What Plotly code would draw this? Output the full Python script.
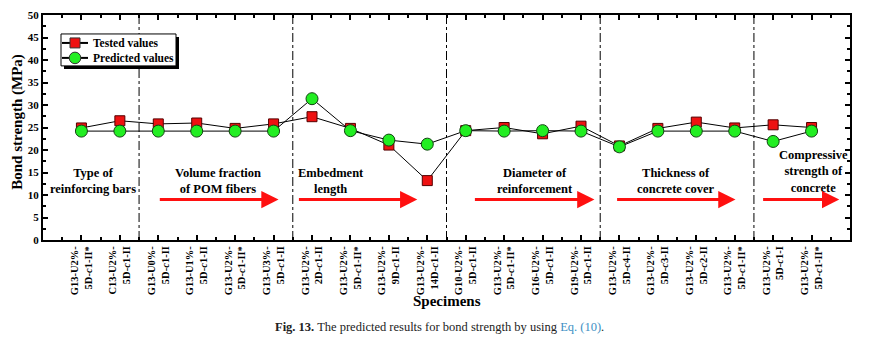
import plotly.graph_objects as go

categories = [
    "G13-U2%-<br>5D-<i>c</i>1-II*",
    "C13-U2%-<br>5D-<i>c</i>1-II",
    "G13-U0%-<br>5D-<i>c</i>1-II",
    "G13-U1%-<br>5D-<i>c</i>1-II",
    "G13-U2%-<br>5D-<i>c</i>1-II*",
    "G13-U3%-<br>5D-<i>c</i>1-II",
    "G13-U2%-<br>2D-<i>c</i>1-II",
    "G13-U2%-<br>5D-<i>c</i>1-II*",
    "G13-U2%-<br>9D-<i>c</i>1-II",
    "G13-U2%-<br>14D-<i>c</i>1-II",
    "G10-U2%-<br>5D-<i>c</i>1-II",
    "G13-U2%-<br>5D-<i>c</i>1-II*",
    "G16-U2%-<br>5D-<i>c</i>1-II",
    "G19-U2%-<br>5D-<i>c</i>1-II",
    "G13-U2%-<br>5D-<i>c</i>4-II",
    "G13-U2%-<br>5D-<i>c</i>3-II",
    "G13-U2%-<br>5D-<i>c</i>2-II",
    "G13-U2%-<br>5D-<i>c</i>1-II*",
    "G13-U2%-<br>5D-<i>c</i>1-I",
    "G13-U2%-<br>5D-<i>c</i>1-II*",
]
tested = [24.9, 26.5, 25.8, 26.0, 24.8, 25.8, 27.4, 24.8, 21.1, 13.2,
          24.3, 25.0, 23.6, 25.3, 20.9, 24.8, 26.2, 24.9, 25.6, 25.0]
predicted = [24.2, 24.2, 24.2, 24.2, 24.2, 24.2, 31.4, 24.3, 22.2, 21.3,
             24.3, 24.2, 24.3, 24.2, 20.7, 24.2, 24.2, 24.2, 21.9, 24.2]
series_names = ["Tested values", "Predicted values"]
group_sizes = [2, 4, 4, 4, 4, 2]
group_labels = ["Type of<br>reinforcing bars", "Volume fraction<br>of POM fibers",
                "Embedment<br>length", "Diameter of<br>reinforcement",
                "Thickness of<br>concrete cover", "Compressive<br>strength of<br>concrete"]

FONT = "Liberation Serif"
RED = "#ee1111"
GREEN = "#22ee22"
xs = list(range(len(categories)))

# page body has an 8px margin: figure sized so the page fits the window
W, H = 862, 347
ML, MR, MT, MB = 35, 20, 7, 114.5
PW, PH = W - ML - MR, H - MT - MB  # plot area in px


def px(x):  # screen x -> paper
    return (x - 8 - ML) / PW


def py(y):  # screen y -> paper
    return (H - MB - (y - 8)) / PH


fig = go.Figure()
fig.add_trace(go.Scatter(
    x=xs, y=tested, name=series_names[0], mode="lines+markers",
    line=dict(color="black", width=1),
    marker=dict(symbol="square", size=10, color=RED, line=dict(color="#550000", width=1)),
))
fig.add_trace(go.Scatter(
    x=xs, y=predicted, name=series_names[1], mode="lines+markers",
    line=dict(color="black", width=1),
    marker=dict(symbol="circle", size=12, color=GREEN, line=dict(color="#114411", width=1)),
))

shapes = []
acc = 0
for s in group_sizes[:-1]:
    acc += s
    shapes.append(dict(type="line", xref="x", yref="paper", x0=acc - 0.5, x1=acc - 0.5, y0=0, y1=1,
                       line=dict(color="black", width=1, dash="dashdot")))

# manual legend (box with drop shadow)
shapes.append(dict(type="rect", xref="paper", yref="paper",
                   x0=px(64), x1=px(179), y0=py(69), y1=py(37),
                   fillcolor="black", line=dict(width=0)))
shapes.append(dict(type="rect", xref="paper", yref="paper",
                   x0=px(61), x1=px(176), y0=py(66), y1=py(34),
                   fillcolor="white", line=dict(color="black", width=1)))
annotations = []
for i, (name, sym, col) in enumerate(zip(series_names, ["square", "circle"], [RED, GREEN])):
    ly = 43 + i * 15
    shapes.append(dict(type="line", xref="paper", yref="paper", x0=px(62), x1=px(88),
                       y0=py(ly), y1=py(ly), line=dict(color="black", width=2)))
    r = 5 if sym == "square" else 5.8
    shapes.append(dict(type="rect" if sym == "square" else "circle", xref="paper", yref="paper",
                       x0=px(75 - r), x1=px(75 + r), y0=py(ly + r), y1=py(ly - r),
                       fillcolor=col, line=dict(color="#333333", width=1)))
    annotations.append(dict(x=px(91), y=py(ly), xref="paper", yref="paper", text=name,
                            xanchor="left", yanchor="middle", showarrow=False,
                            font=dict(family=FONT, size=11.5, color="black", weight="bold")))

label_pos = [(0.29, 13.2), (3.56, 13.2), (6.5, 13.2), (11.79, 13.2), (15.46, 13.2), (19.05, 15.2)]
for (lx, ly), txt in zip(label_pos, group_labels):
    annotations.append(dict(x=lx, y=ly, xref="x", yref="y", text=txt, showarrow=False,
                            xanchor="center", yanchor="middle",
                            font=dict(family=FONT, size=12.5, color="black", weight="bold"),
                            align="center"))
arrows = [(2.0, 5.13), (5.62, 8.74), (10.2, 13.35), (13.9, 17.02), (17.7, 19.72)]
for a0, a1 in arrows:
    annotations.append(dict(x=a1, y=9.0, ax=a0, ay=9.0, xref="x", yref="y", axref="x", ayref="y",
                            text="", showarrow=True, arrowhead=2, arrowsize=1.15, arrowwidth=3,
                            arrowcolor="#ff1010"))
annotations.append(dict(x=px(18), y=py(122), xref="paper", yref="paper", text="Bond strength (MPa)",
                        textangle=-90, showarrow=False, xanchor="center", yanchor="middle",
                        font=dict(family=FONT, size=15, color="black", weight="bold")))
annotations.append(dict(x=0.5, y=py(302), xref="paper", yref="paper", text="Specimens",
                        showarrow=False, xanchor="center", yanchor="middle",
                        font=dict(family=FONT, size=15, color="black", weight="bold")))
annotations.append(dict(x=px(439), y=py(328), xref="paper", yref="paper",
                        text="<b>Fig. 13.</b> The predicted results for bond strength by using "
                             "<span style='color:#3d8fc4'>Eq. (10)</span>.",
                        showarrow=False, xanchor="center", yanchor="middle",
                        font=dict(family=FONT, size=12.5, color="#222222")))

fig.update_layout(
    width=W, height=H, template="none",
    paper_bgcolor="white", plot_bgcolor="white",
    margin=dict(l=ML, r=MR, t=MT, b=MB, autoexpand=False),
    showlegend=False,
    shapes=shapes, annotations=annotations,
)
fig.update_xaxes(
    range=[-1, 20], tickmode="array", tickvals=xs, ticktext=categories,
    tickangle=-90, ticks="inside", ticklen=5, tickwidth=1.5, tickcolor="black",
    minor=dict(tickvals=[x - 0.5 for x in xs] + [xs[-1] + 0.5], ticks="inside", ticklen=3,
               tickwidth=1.5, tickcolor="black"),
    showline=True, linecolor="black", linewidth=2, mirror="allticks",
    showgrid=False, zeroline=False, automargin=False,
    tickfont=dict(family=FONT, size=10.5, color="black", weight="bold"),
)
fig.update_yaxes(
    range=[0, 50], dtick=5, ticks="inside", ticklen=5, tickwidth=1.5, tickcolor="black",
    minor=dict(dtick=2.5, ticks="inside", ticklen=3, tickwidth=1.5, tickcolor="black"),
    showline=True, linecolor="black", linewidth=2, mirror="allticks",
    showgrid=False, zeroline=False, automargin=False,
    tickfont=dict(family=FONT, size=11, color="black", weight="bold"),
)

fig.write_html("out.html")
